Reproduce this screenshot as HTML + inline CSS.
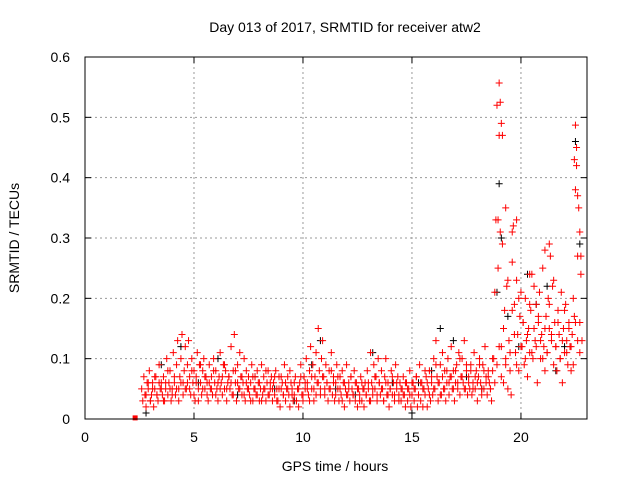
<!DOCTYPE html>
<html><head><meta charset="utf-8"><style>
body{margin:0;background:#fff}
svg{display:block;font-family:"Liberation Sans",sans-serif}
</style></head><body>
<svg id="chart" width="640" height="480" viewBox="0 0 640 480">
<rect x="0" y="0" width="640" height="480" fill="#fff"/>
<text x="345" y="32" text-anchor="middle" font-size="14">Day 013 of 2017, SRMTID for receiver atw2</text>
<text x="335" y="471" text-anchor="middle" font-size="14">GPS time / hours</text>
<text transform="translate(19,238) rotate(-90)" text-anchor="middle" font-size="14">SRMTID / TECUs</text>
<g id="grid"></g><g id="axes"></g><g id="marks"></g>
<rect x="85" y="57" width="502" height="362" fill="none" stroke="#000" stroke-width="1"/>
</svg>
<script>
const xTicks=[0,5,10,15,20];
const yTicks=[0,0.1,0.2,0.3,0.4,0.5,0.6];
const yTickLabels=["0","0.1","0.2","0.3","0.4","0.5","0.6"];
const redStart=2.6, redStep=0.05;
const redValues=[
.05,.03,.07,.04,.02,.06,.05,.08,.03,.04,.06,.02,.05,.07,.04,.03,.09,.05,.06,.04,
.07,.03,.05,.10,.04,.06,.08,.03,.05,.11,.06,.04,.09,.13,.05,.07,.10,.14,.06,.08,
.12,.05,.09,.13,.07,.04,.10,.06,.08,.03,.07,.11,.05,.09,.06,.04,.08,.10,.05,.07,
.06,.03,.09,.05,.07,.04,.10,.06,.08,.05,.03,.07,.11,.06,.04,.09,.05,.08,.03,.06,
.07,.05,.12,.04,.08,.14,.06,.03,.09,.05,.11,.07,.04,.06,.10,.03,.08,.05,.07,.04,
.06,.09,.03,.05,.07,.04,.08,.06,.03,.05,.09,.04,.07,.05,.03,.06,.08,.04,.05,.07,
.03,.06,.04,.08,.05,.03,.07,.02,.05,.06,.04,.09,.03,.05,.07,.04,.02,.06,.05,.03,
.04,.07,.03,.05,.02,.06,.09,.04,.03,.07,.05,.10,.06,.04,.08,.12,.05,.09,.03,.07,
.11,.06,.15,.08,.04,.10,.13,.07,.05,.09,.06,.03,.08,.05,.11,.04,.07,.03,.06,.09,
.05,.03,.07,.04,.08,.06,.02,.05,.09,.04,.06,.03,.07,.05,.04,.08,.03,.06,.02,.05,
.04,.07,.03,.05,.02,.06,.04,.08,.05,.03,.11,.06,.04,.09,.05,.07,.03,.10,.06,.04,
.08,.05,.03,.07,.10,.04,.06,.02,.05,.08,.04,.06,.03,.09,.05,.07,.04,.06,.03,.05,
.07,.04,.02,.06,.03,.05,.08,.02,.04,.06,.03,.05,.07,.02,.04,.09,.03,.06,.02,.05,
.04,.07,.02,.05,.08,.03,.06,.04,.10,.05,.13,.07,.03,.06,.09,.04,.11,.05,.08,.03,
.06,.10,.04,.07,.12,.05,.08,.03,.06,.09,.05,.11,.04,.07,.10,.06,.13,.05,.08,.04,
.07,.05,.09,.04,.06,.11,.05,.08,.03,.07,.10,.06,.04,.09,.05,.12,.07,.04,.08,.06,
.05,.03,.08,.10,.21,.33,.52,.25,.47,.31,.12,.29,.06,.18,.09,.22,.05,.13,.08,.04,
.26,.32,.19,.11,.23,.14,.08,.17,.21,.12,.16,.09,.20,.13,.07,.15,.11,.18,.24,.10,
.22,.13,.19,.06,.16,.21,.10,.14,.25,.12,.08,.17,.11,.20,.15,.27,.13,.22,.09,.16,
.12,.08,.18,.14,.10,.21,.06,.15,.11,.19,.13,.09,.16,.12,.08,.14,.20,.17,.38,.45,
.27,.35,.16,.24,.13];
const red2Values=[
.04,.06,.03,.05,.07,.04,.06,.05,.03,.06,.08,.05,.04,.07,.05,.03,.06,.04,.05,.06,
.05,.08,.04,.06,.03,.09,.05,.07,.04,.06,.05,.08,.04,.06,.05,.07,.09,.05,.07,.06,
.04,.08,.06,.05,.07,.04,.06,.05,.03,.07,.05,.04,.06,.03,.05,.08,.04,.06,.05,.07,
.03,.05,.07,.04,.06,.05,.08,.04,.06,.03,.05,.07,.04,.06,.05,.03,.07,.05,.04,.06,
.05,.07,.04,.06,.05,.08,.06,.04,.07,.05,.03,.06,.04,.05,.07,.04,.06,.05,.03,.06,
.05,.04,.06,.03,.05,.07,.04,.06,.05,.03,.06,.04,.05,.07,.04,.06,.03,.05,.04,.06,
.05,.04,.06,.05,.07,.04,.06,.05,.08,.06,.04,.07,.05,.09,.06,.04,.07,.05,.08,.06,
.07,.05,.08,.06,.10,.07,.05,.09,.06,.08,.05,.07,.06,.09,.05,.08,.06,.07,.05,.10,
.06,.09,.12,.07,.15,.10,.23,.11,.18,.14,.09,.20,.12,.16,.10,.14,.19,.11,.15,.12,
.17,.13,.10,.15,.11,.19,.14,.23,.12,.16,.10,.13,.18,.11,.15,.12,.09,.16,.13,.11];
const red2Start=2.8, red2Step=0.1;
const peakTimes=[18.95,19.0,19.05,19.1,19.15,19.3,19.6,19.8,20.4,21.1,21.3,22.45,22.5,22.55,22.6,22.7,22.75];
const peakValues=[.33,.557,.525,.49,.47,.35,.31,.33,.24,.28,.29,.43,.487,.42,.37,.31,.27];
const blackTimes=[2.8,3.5,4.4,5.2,6.1,7.0,7.8,8.7,9.6,10.4,10.8,11.5,12.4,13.2,14.1,15.0,15.3,15.9,16.3,16.9,17.5,18.2,18.9,19.0,19.1,19.4,19.9,20.3,20.7,21.2,21.6,22.0,22.5,22.7];
const blackValues=[.01,.09,.12,.06,.10,.04,.07,.05,.03,.09,.13,.05,.04,.11,.06,.01,.06,.08,.15,.13,.07,.05,.21,.39,.30,.17,.12,.24,.19,.22,.08,.12,.46,.29];
const squareTimes=[2.3], squareValues=[0.001];

const X0=85,XW=502,XMAX=23.03,Y0=419,YH=362,YMAX=0.6;
function xs(t){return X0+t/XMAX*XW}
function ys(v){return Y0-v/YMAX*YH}
const NS="http://www.w3.org/2000/svg";
const grid=document.getElementById('grid'),axes=document.getElementById('axes'),marks=document.getElementById('marks');
function mk(tag,attrs,parent){const e=document.createElementNS(NS,tag);for(const k in attrs)e.setAttribute(k,attrs[k]);parent.appendChild(e);return e}
xTicks.forEach(t=>{
  const x=xs(t);
  if(t>0){const g=mk('line',{x1:x,x2:x,y1:57,y2:419,stroke:'#999','stroke-dasharray':'2,3','stroke-width':1},grid);
  
  }
  const tk=mk('line',{x1:x,x2:x,y1:419,y2:413,stroke:'#000'},axes);
  
  
  const tk2=mk('line',{x1:x,x2:x,y1:57,y2:63,stroke:'#000'},axes);
  
  
  const l=mk('text',{x:x,y:442,'text-anchor':'middle','font-size':14},axes);l.textContent=String(t);
  
  
});
yTicks.forEach((v,i)=>{
  const y=ys(v);
  if(v>0&&v<0.6){const g=mk('line',{x1:85,x2:587,y1:y,y2:y,stroke:'#999','stroke-dasharray':'2,3','stroke-width':1},grid);
  
  }
  const tk=mk('line',{x1:85,x2:91,y1:y,y2:y,stroke:'#000'},axes);
  
  
  const tk2=mk('line',{x1:581,x2:587,y1:y,y2:y,stroke:'#000'},axes);
  
  
  const l=mk('text',{x:70,y:y+5,'text-anchor':'end','font-size':14},axes);l.textContent=yTickLabels[i];
  
  
});
function plus(t,v,color,name){
  const x=xs(t),y=ys(v);
  const p=mk('path',{d:`M${x-3.5},${y}h7M${x},${y-3.5}v7`,stroke:color,'stroke-width':1,fill:'none'},marks);
  
  
}
blackTimes.forEach((t,i)=>plus(t,blackValues[i],'#000','black-point'));
red2Values.forEach((v,i)=>plus(red2Start+i*red2Step,v,'#f00','red-point'));
redValues.forEach((v,i)=>plus(redStart+i*redStep,v,'#f00','red-point'));
peakTimes.forEach((t,i)=>plus(t,peakValues[i],'#f00','red-peak-point'));
squareTimes.forEach((t,i)=>{
  const s=mk('rect',{x:xs(t)-2.5,y:ys(squareValues[i])-3,width:5,height:5,fill:'#f00'},marks);
  
  
});
</script>
</body></html>
